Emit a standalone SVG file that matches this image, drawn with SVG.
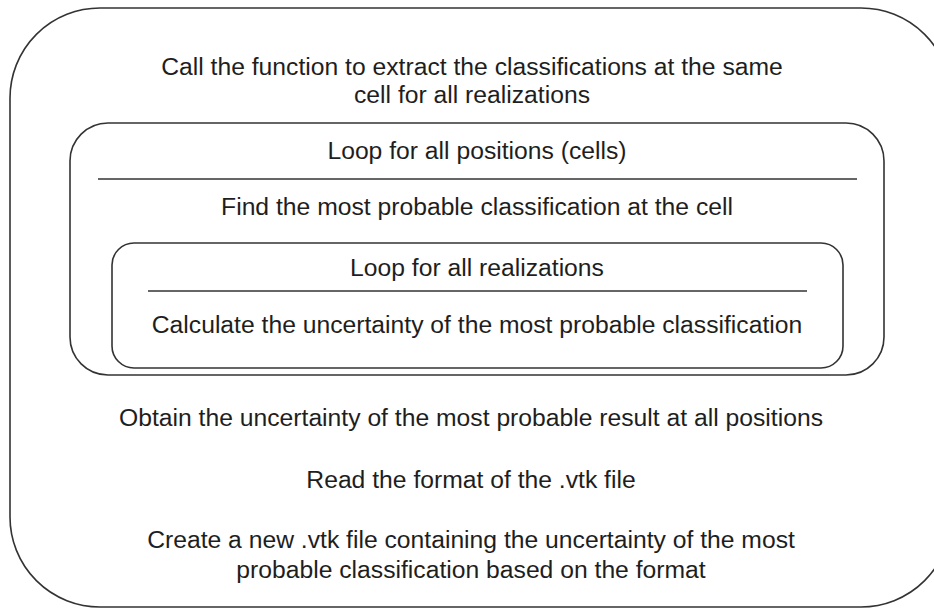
<svg xmlns="http://www.w3.org/2000/svg" width="934" height="609" viewBox="0 0 934 609">
<style>
.box{fill:none;stroke:#333;stroke-width:1.6}
.sep{stroke:#333;stroke-width:1.4}
text{font-family:"Liberation Sans",Arial,sans-serif;font-size:24.7px;fill:#1e1e1e;text-anchor:middle}
</style>
<rect width="934" height="609" fill="#fff"/>
<g id="outer">
<rect class="box" x="10" y="8" width="941" height="599" rx="90" ry="90"/>
<text x="472" y="75">Call the function to extract the classifications at the same</text>
<text x="472" y="103">cell for all realizations</text>
<text x="471" y="426">Obtain the uncertainty of the most probable result at all positions</text>
<text x="471" y="488">Read the format of the .vtk file</text>
<text x="471" y="548">Create a new .vtk file containing the uncertainty of the most</text>
<text x="471" y="578">probable classification based on the format</text>
</g>
<g id="loop-positions">
<rect class="box" x="70" y="123" width="814" height="252" rx="38" ry="38"/>
<text x="477" y="159">Loop for all positions (cells)</text>
<line class="sep" x1="98" y1="179" x2="857" y2="179"/>
<text x="477" y="215">Find the most probable classification at the cell</text>
</g>
<g id="loop-realizations">
<rect class="box" x="112" y="243" width="731" height="125" rx="22" ry="22"/>
<text x="477" y="276">Loop for all realizations</text>
<line class="sep" x1="148" y1="291" x2="807" y2="291"/>
<text x="477" y="333">Calculate the uncertainty of the most probable classification</text>
</g>
<g id="connectors"></g>
</svg>
